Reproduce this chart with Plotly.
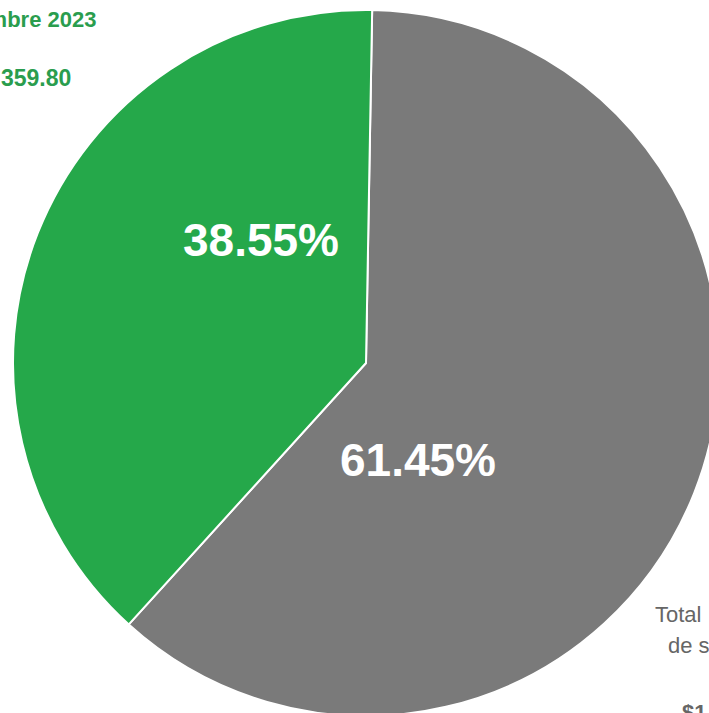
import plotly.graph_objects as go

# Data (gray slice listed first so that, drawn clockwise from 12 o'clock,
# the green slice lands on the upper-left as in the reference)
labels = ["Total de saldo", "Septiembre 2023"]
values = [61.45, 38.55]
colors = ["#7a7a7a", "#25a84a"]
pct_text = [f"{v:.2f}%" for v in values]

W, H = 740, 740
cx, cy, r = 366, 363, 353

fig = go.Figure(go.Pie(
    labels=labels,
    values=values,
    sort=False,
    direction="clockwise",
    rotation=1,
    marker=dict(colors=colors, line=dict(color="white", width=2)),
    textinfo="none",
    hoverinfo="label+percent",
    showlegend=False,
    domain=dict(x=[(cx - r) / W, (cx + r) / W], y=[1 - (cy + r) / H, 1 - (cy - r) / H]),
))

def px(x, y):
    return dict(x=x / W, y=1 - y / H, xref="paper", yref="paper", yanchor="middle")

ann = []
ann.append(dict(text=pct_text[1], **px(181, 240), showarrow=False,
                font=dict(family="Liberation Sans, Arial", size=46, color="white", weight="bold")))
ann.append(dict(text=pct_text[0], **px(498, 460), showarrow=False,
                font=dict(family="Liberation Sans, Arial", size=46, color="white", weight="bold")))
ann.append(dict(text="Diciembre 2023", **px(98, 20), xanchor="right", showarrow=False,
                font=dict(family="Liberation Sans, Arial", size=22, color="#2a9d4e", weight="bold")))
ann.append(dict(text="$1,359.80", **px(73, 78), xanchor="right", showarrow=False,
                font=dict(family="Liberation Sans, Arial", size=23, color="#2a9d4e", weight="bold")))
ann.append(dict(text="Total", **px(653, 614), xanchor="left", showarrow=False,
                font=dict(family="Liberation Sans, Arial", size=22, color="#666666")))
ann.append(dict(text="de s", **px(666, 645), xanchor="left", showarrow=False,
                font=dict(family="Liberation Sans, Arial", size=22, color="#666666")))
ann.append(dict(text="$1", **px(680, 712), xanchor="left", showarrow=False,
                font=dict(family="Liberation Sans, Arial", size=22, color="#666666", weight="bold")))

fig.update_layout(
    width=W, height=H,
    margin=dict(l=0, r=0, t=0, b=0),
    paper_bgcolor="white",
    plot_bgcolor="white",
    annotations=ann,
)

fig.write_html("out.html", config={"displayModeBar": False},
               post_script="document.body.style.margin='0';document.body.style.overflow='hidden';document.documentElement.style.overflow='hidden';")
